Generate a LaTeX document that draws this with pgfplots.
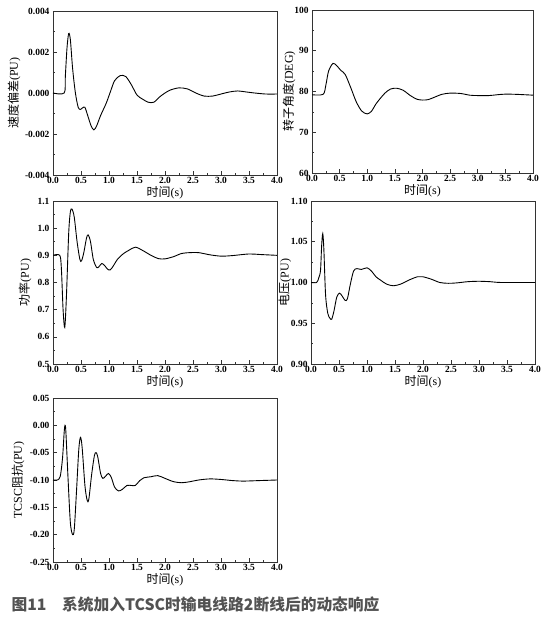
\documentclass[border=0pt]{standalone}
\usepackage{fontspec}
\setmainfont{Liberation Serif}
\newfontfamily\cjk{Noto Sans CJK SC}
\usepackage{pgfplots}
\pgfplotsset{compat=1.18}
\pgfplotsset{
  base/.style={scale only axis, anchor=south west, xmin=0, xmax=4,
    xtick={0,0.5,1,1.5,2,2.5,3,3.5,4}, minor x tick num=1, minor y tick num=1,
    tick pos=left, tick align=inside, major tick length=3.5bp, minor tick length=2bp,
    axis line style={line width=0.9pt, black!80},
    every tick/.style={black!80, line width=0.6pt},
    scaled ticks=false,
    /pgf/number format/assume math mode=true,
    ticklabel style={font=\fontsize{9.5}{9.5}\selectfont\bfseries},
    xticklabel style={/pgf/number format/fixed,/pgf/number format/fixed zerofill,/pgf/number format/precision=1, yshift=1bp},
    xlabel={{\cjk 时间}(s)},
    label style={font=\fontsize{12}{12}\selectfont},
    xlabel style={font=\fontsize{12}{12}\selectfont, at={(axis description cs:0.5,0)}, anchor=center, yshift=-18bp},
  },
  yl/.style={ylabel style={at={(axis description cs:0,0.5)}, anchor=center, yshift=#1}},
  crv/.style={black, line width=0.9pt, smooth, no markers},
}
\begin{document}
\begin{tikzpicture}
\path (0,0) rectangle (549bp,621bp);
% plot 1
\begin{axis}[base, at={(53bp,446bp)}, width=224bp, height=164bp,
  ymin=-0.004, ymax=0.004, ytick={-0.004,-0.002,0,0.002,0.004},
  yticklabel style={/pgf/number format/fixed,/pgf/number format/fixed zerofill,/pgf/number format/precision=3},
  yl=39bp, ylabel={{\cjk 速度偏差}(PU)}]
\addplot[crv] coordinates {(0,0)(0.2,0)(0.22,0.0008)(0.25,0.0022)(0.28,0.0029)(0.31,0.0026)(0.35,0.0012)(0.4,0)(0.45,-0.0007)(0.49,-0.0008)(0.53,-0.00072)(0.57,-0.0007)(0.62,-0.0011)(0.68,-0.0016)(0.73,-0.0018)(0.78,-0.0016)(0.85,-0.0011)(0.95,-0.0005)(1.03,0.0001)(1.1,0.0006)(1.2,0.00085)(1.3,0.0008)(1.4,0.0004)(1.5,-0.0001)(1.6,-0.0003)(1.7,-0.00045)(1.8,-0.00045)(1.9,-0.0002)(2.0,0.0)(2.1,0.00015)(2.25,0.00025)(2.4,0.0002)(2.55,0)(2.7,-0.00015)(2.85,-0.00015)(3.0,-0.00005)(3.15,0.00005)(3.3,0.0001)(3.45,0.00005)(3.6,0)(3.8,-0.00005)(4.0,-0.00005)};
\end{axis}
% plot 2
\begin{axis}[base, at={(312bp,448bp)}, width=221bp, height=163bp,
  ymin=60, ymax=100, ytick={60,70,80,90,100},
  yl=23bp, ylabel={{\cjk 转子角度}(DEG)}]
\addplot[crv] coordinates {(0,79.2)(0.2,79.3)(0.25,81.5)(0.3,85)(0.38,86.9)(0.45,86.3)(0.52,85.2)(0.6,84.2)(0.7,81)(0.8,77.5)(0.9,75.2)(1.0,74.5)(1.08,75.2)(1.15,76.8)(1.23,78.2)(1.32,79.6)(1.42,80.6)(1.53,80.8)(1.65,80.3)(1.78,79)(1.9,78.1)(2.0,77.9)(2.1,78)(2.2,78.5)(2.35,79.3)(2.5,79.6)(2.7,79.5)(2.85,79.1)(3.0,79.0)(3.2,79.0)(3.35,79.2)(3.5,79.35)(3.7,79.3)(4.0,79.1)};
\end{axis}
% plot 3
\begin{axis}[base, at={(53bp,257bp)}, width=224bp, height=163bp,
  ymin=0.5, ymax=1.1, ytick={0.5,0.6,0.7,0.8,0.9,1.0,1.1},
  yticklabel style={/pgf/number format/fixed,/pgf/number format/fixed zerofill,/pgf/number format/precision=1},
  yl=28bp, ylabel={{\cjk 功率}(PU)}]
\addplot[crv] coordinates {(0,0.9)(0.12,0.9)(0.15,0.85)(0.18,0.7)(0.21,0.635)(0.24,0.75)(0.28,0.98)(0.31,1.06)(0.34,1.07)(0.38,1.04)(0.43,0.95)(0.48,0.885)(0.51,0.88)(0.55,0.91)(0.6,0.965)(0.63,0.975)(0.67,0.95)(0.72,0.885)(0.78,0.855)(0.82,0.858)(0.87,0.87)(0.92,0.863)(0.97,0.85)(1.02,0.846)(1.08,0.862)(1.15,0.885)(1.25,0.905)(1.35,0.918)(1.47,0.93)(1.6,0.918)(1.75,0.9)(1.88,0.888)(2.0,0.887)(2.15,0.895)(2.3,0.907)(2.45,0.91)(2.6,0.91)(2.8,0.902)(3.0,0.897)(3.2,0.899)(3.5,0.905)(3.7,0.903)(4.0,0.9)};
\end{axis}
% plot 4
\begin{axis}[base, at={(311bp,257bp)}, width=224bp, height=163bp,
  ymin=0.9, ymax=1.1, ytick={0.9,0.95,1.0,1.05,1.1},
  yticklabel style={/pgf/number format/fixed,/pgf/number format/fixed zerofill,/pgf/number format/precision=2},
  yl=26bp, ylabel={{\cjk 电压}(PU)}]
\addplot[crv] coordinates {(0,1.0)(0.1,1.0)(0.14,1.006)(0.17,1.015)(0.19,1.045)(0.21,1.06)(0.23,1.04)(0.26,0.985)(0.3,0.962)(0.34,0.956)(0.37,0.955)(0.41,0.965)(0.46,0.982)(0.51,0.987)(0.56,0.983)(0.61,0.978)(0.65,0.98)(0.7,0.997)(0.76,1.014)(0.82,1.017)(0.9,1.016)(1.0,1.018)(1.08,1.014)(1.16,1.007)(1.24,1.003)(1.35,0.998)(1.47,0.996)(1.6,0.998)(1.75,1.003)(1.9,1.007)(2.0,1.007)(2.15,1.004)(2.3,1.0)(2.45,0.999)(2.6,0.9995)(2.8,1.001)(3.0,1.0015)(3.2,1.001)(3.4,1.0)(4.0,1.0)};
\end{axis}
% plot 5
\begin{axis}[base, at={(53bp,59bp)}, width=224bp, height=164bp,
  ymin=-0.25, ymax=0.05, ytick={-0.25,-0.2,-0.15,-0.1,-0.05,0,0.05},
  yticklabel style={/pgf/number format/fixed,/pgf/number format/fixed zerofill,/pgf/number format/precision=2},
  yl=35bp, ylabel={TCSC{\cjk 阻抗}(PU)}]
\addplot[crv] coordinates {(0,-0.1)(0.08,-0.1)(0.13,-0.093)(0.17,-0.06)(0.2,-0.012)(0.215,0.0)(0.23,-0.012)(0.27,-0.1)(0.31,-0.178)(0.35,-0.2)(0.38,-0.19)(0.42,-0.12)(0.46,-0.045)(0.49,-0.022)(0.52,-0.04)(0.57,-0.11)(0.61,-0.137)(0.64,-0.135)(0.69,-0.09)(0.74,-0.055)(0.77,-0.05)(0.8,-0.058)(0.85,-0.088)(0.89,-0.097)(0.94,-0.093)(0.99,-0.088)(1.04,-0.095)(1.1,-0.113)(1.17,-0.12)(1.24,-0.117)(1.32,-0.11)(1.4,-0.11)(1.47,-0.11)(1.55,-0.101)(1.62,-0.096)(1.75,-0.094)(1.87,-0.092)(2.0,-0.097)(2.15,-0.103)(2.3,-0.105)(2.45,-0.103)(2.6,-0.1)(2.8,-0.098)(3.0,-0.099)(3.2,-0.101)(3.4,-0.102)(3.7,-0.101)(4.0,-0.1)};
\end{axis}
\node[anchor=west, text=black!68, font=\cjk\bfseries\fontsize{15.8}{15.8}\selectfont] at (8bp,17bp) {图11\quad 系统加入TCSC时输电线路2断线后的动态响应};
\end{tikzpicture}
\end{document}
